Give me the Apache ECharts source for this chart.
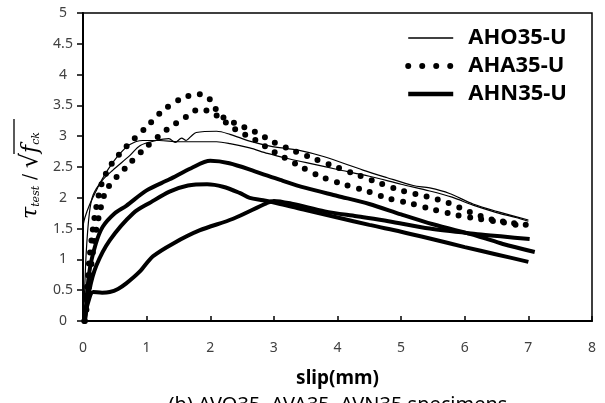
<!DOCTYPE html>
<html>
<head>
<meta charset="utf-8">
<script src="https://cdn.jsdelivr.net/npm/echarts@6/dist/echarts.min.js"></script>
<style>
html,body{margin:0;padding:0;background:#fff;}
#chart{width:605px;height:403px;}
</style>
</head>
<body>
<div id="chart"></div>
<script>
// Series names (legend)
const seriesNames = ['AHO35-U', 'AHA35-U', 'AHN35-U'];

// AHO35-U specimens (thin line) [slip, stress]
const aho35_1 = [[0,1.55],[0.03,1.68],[0.1,1.88],[0.21,2.12],[0.3,2.3],[0.4,2.47],[0.55,2.68],[0.73,2.86],[0.94,2.93],[1.2,2.93],[1.5,2.91],[1.88,2.91],[2.1,2.91],[2.31,2.88],[2.62,2.81],[2.9,2.72],[3.25,2.63],[3.6,2.55],[4.0,2.46],[4.5,2.35],[5.0,2.22],[5.45,2.11],[5.8,2.01],[6.13,1.88],[6.5,1.76],[6.8,1.68],[7.0,1.62]];
const aho35_2 = [[0.02,0.3],[0.05,1.1],[0.1,1.75],[0.16,2.05],[0.3,2.28],[0.47,2.45],[0.73,2.68],[0.9,2.85],[1.15,2.93],[1.35,2.96],[1.45,2.9],[1.55,2.97],[1.62,2.93],[1.7,3.0],[1.78,3.06],[2.1,3.08],[2.31,3.03],[2.62,2.92],[2.94,2.84],[3.4,2.77],[3.78,2.67],[4.4,2.45],[4.77,2.33],[5.19,2.2],[5.45,2.16],[5.76,2.07],[6.13,1.9],[6.5,1.78],[7.0,1.64]];

// AHA35-U specimens (dotted line)
const aha35_1 = [[0.02,0],[0.06,0.5],[0.1,1.0],[0.15,1.45],[0.2,1.8],[0.3,2.25],[0.45,2.55],[0.68,2.83],[1.0,3.15],[1.26,3.42],[1.57,3.62],[1.83,3.68],[1.96,3.64],[2.08,3.45],[2.2,3.31],[2.46,3.18],[2.62,3.11],[2.8,3.02],[2.96,2.92],[3.3,2.77],[3.64,2.63],[3.98,2.5],[4.32,2.37],[4.66,2.24],[5.03,2.11],[5.4,2.02],[5.74,1.92],[6.08,1.77],[6.42,1.65],[6.76,1.59],[6.97,1.56]];
const aha35_2 = [[0.03,0],[0.08,0.4],[0.13,0.9],[0.18,1.3],[0.25,1.7],[0.37,2.13],[0.68,2.5],[1.0,2.83],[1.31,3.1],[1.63,3.32],[1.83,3.44],[1.99,3.4],[2.15,3.3],[2.3,3.18],[2.46,3.07],[2.62,2.99],[2.8,2.88],[2.94,2.78],[3.12,2.68],[3.43,2.5],[3.75,2.34],[4.09,2.22],[4.46,2.11],[4.8,1.99],[5.14,1.91],[5.5,1.81],[5.87,1.72],[6.2,1.66],[6.6,1.6],[6.97,1.53]];

// AHN35-U specimens (thick line)
const ahn35_1 = [[0.03,0],[0.1,0.8],[0.2,1.25],[0.31,1.53],[0.5,1.75],[0.68,1.87],[1.0,2.12],[1.36,2.3],[1.7,2.48],[2.0,2.6],[2.3,2.56],[2.7,2.43],[3.1,2.29],[3.5,2.16],[4.0,2.03],[4.5,1.9],[5.0,1.73],[5.5,1.57],[6.2,1.38],[6.6,1.25],[7.1,1.12]];
const ahn35_2 = [[0.03,0],[0.1,0.5],[0.21,0.9],[0.42,1.31],[0.79,1.75],[1.07,1.93],[1.36,2.1],[1.65,2.2],[1.95,2.22],[2.2,2.18],[2.46,2.08],[2.62,2.0],[2.83,1.96],[3.1,1.9],[3.5,1.8],[4.0,1.68],[4.5,1.56],[5.0,1.45],[5.45,1.34],[6.0,1.2],[6.5,1.08],[7.0,0.96]];
const ahn35_3 = [[0.02,0],[0.08,0.3],[0.16,0.47],[0.3,0.46],[0.42,0.47],[0.55,0.52],[0.68,0.61],[0.89,0.8],[1.1,1.05],[1.42,1.26],[1.83,1.47],[2.36,1.66],[2.88,1.91],[3.0,1.95],[3.3,1.9],[3.8,1.78],[4.3,1.7],[4.8,1.62],[5.45,1.5],[6.2,1.41],[6.6,1.37],[7.02,1.33]];

const chart = echarts.init(document.getElementById('chart'), null, {renderer: 'canvas'});

const thin = {color: '#000', width: 1.2};
const dotted = {color: '#000', width: 6, type: [0, 11.5], cap: 'round'};
const thick = {color: '#000', width: 4};

function mk(name, data, ls, z) {
  return {type: 'line', name: name, data: data, symbol: 'none', showSymbol: false,
          smooth: 0.3, lineStyle: ls, itemStyle: {color: '#000'}, z: z, animation: false, silent: true};
}

const FONT = 'Noto Sans';

chart.setOption({
  animation: false,
  backgroundColor: '#fff',
  grid: {left: 83, right: 13, top: 13, bottom: 82, show: true, borderColor: '#000', borderWidth: 1.5, backgroundColor: 'transparent'},
  legend: {
    orient: 'vertical', right: 33, top: 22,
    itemWidth: 45, itemHeight: 14, itemGap: 6,
    itemStyle: {opacity: 0},
    selectedMode: false,
    data: [
      {name: seriesNames[0], lineStyle: {color: '#000', width: 1.3, type: 'solid'}},
      {name: seriesNames[1], lineStyle: {color: '#000', width: 6, type: [0, 14], cap: 'round'}},
      {name: seriesNames[2], lineStyle: {color: '#000', width: 4.5, type: 'solid'}}
    ],
    textStyle: {fontFamily: FONT, fontWeight: 'bold', fontSize: 22, color: '#000', padding: [0, 0, 0, 10]}
  },
  xAxis: {
    type: 'value', min: 0, max: 8, interval: 1,
    name: 'slip(mm)', nameLocation: 'middle', nameGap: 48,
    nameTextStyle: {fontFamily: FONT, fontWeight: 'bold', fontSize: 19, color: '#000'},
    axisLine: {show: true, onZero: false, lineStyle: {color: '#000', width: 2}},
    axisTick: {show: true, inside: true, length: 5, lineStyle: {color: '#000', width: 1.5}},
    axisLabel: {margin: 20, fontFamily: FONT, fontSize: 14, color: '#404040'},
    splitLine: {show: false}
  },
  yAxis: {
    type: 'value', min: 0, max: 5, interval: 0.5,
    axisLine: {show: true, onZero: false, lineStyle: {color: '#000', width: 2}},
    axisTick: {show: true, inside: false, length: 6, lineStyle: {color: '#000', width: 1.5}},
    axisLabel: {margin: 20, align: 'center', fontFamily: FONT, fontSize: 14, color: '#404040'},
    splitLine: {show: false}
  },
  graphic: [
    {
      type: 'group', x: 31, y: 165, rotation: Math.PI / 2,
      children: [
        {type: 'text', x: 12, y: 0, style: {
          text: '{t|τ}{s|test}{n| / }{r|√}', align: 'right', verticalAlign: 'middle',
          rich: {
            t: {fontFamily: 'DejaVu Serif', fontStyle: 'italic', fontSize: 22, fill: '#000'},
            s: {fontFamily: 'DejaVu Serif', fontStyle: 'italic', fontSize: 11, fill: '#000', padding: [10, 0, 0, 0]},
            n: {fontFamily: 'DejaVu Serif', fontSize: 18, fill: '#000'},
            r: {fontFamily: 'DejaVu Serif', fontSize: 24, fill: '#000'}
          }}},
        {type: 'text', x: 12, y: 0, style: {
          text: '{f|f}{s|ck}', align: 'left', verticalAlign: 'middle',
          rich: {
            f: {fontFamily: 'DejaVu Serif', fontStyle: 'italic', fontSize: 22, fill: '#000'},
            s: {fontFamily: 'DejaVu Serif', fontStyle: 'italic', fontSize: 11, fill: '#000', padding: [10, 0, 0, 0]}
          }}},
        {type: 'line', shape: {x1: 11, y1: -17, x2: 46, y2: -17}, style: {stroke: '#000', lineWidth: 1.3}}
      ]
    },
    {
      type: 'text', x: 338, y: 405,
      style: {text: '(b) AVO35, AVA35, AVN35 specimens', align: 'center', verticalAlign: 'middle',
              fontFamily: FONT, fontSize: 20, fill: '#000'}
    }
  ],
  series: [
    mk('AHO35-U', aho35_1, thin, 3),
    mk('AHO35-U', aho35_2, thin, 3),
    mk('AHA35-U', aha35_1, dotted, 2),
    mk('AHA35-U', aha35_2, dotted, 2),
    mk('AHN35-U', ahn35_1, thick, 4),
    mk('AHN35-U', ahn35_2, thick, 4),
    mk('AHN35-U', ahn35_3, thick, 4)
  ]
});
</script>
</body>
</html>
